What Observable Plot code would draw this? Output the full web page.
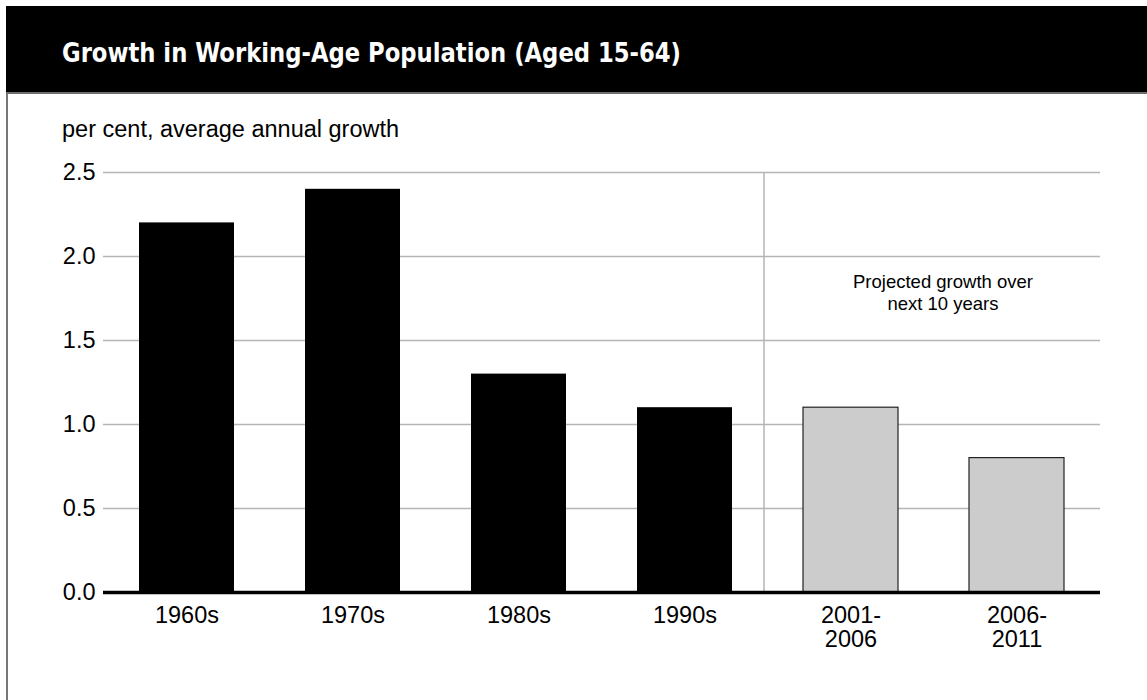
<!DOCTYPE html>
<html>
<head>
<meta charset="utf-8">
<script src="https://cdn.jsdelivr.net/npm/d3@7"></script>
<script src="https://cdn.jsdelivr.net/npm/@observablehq/plot@0.6"></script>
<style>
  html, body { margin: 0; padding: 0; background: #fff; }
  #wrap { position: relative; width: 1147px; height: 700px; overflow: hidden; background: #fff; }
  #titlebar { position: absolute; left: 6px; top: 6px; width: 1141px; height: 86px; background: #000; border-bottom: 2px solid #6e6e6e; }
  #title { position: absolute; left: 56px; top: 29px; line-height: 36px; color: #fff; white-space: nowrap;
           font-family: "Liberation Sans Narrow", "DejaVu Sans Condensed", sans-serif; font-weight: bold; font-size: 27px;
           transform: scaleX(0.935); transform-origin: left center; }
  #leftborder { position: absolute; left: 6px; top: 94px; width: 2px; height: 606px; background: #777; }
  #subtitle { position: absolute; left: 62px; top: 116px; font-family: "Liberation Sans", Arial, sans-serif; font-size: 23.5px; color: #000; white-space: nowrap; }
  #chart { position: absolute; left: 0; top: 100px; }
</style>
</head>
<body>
<div id="wrap">
  <div id="titlebar"><div id="title">Growth in Working-Age Population (Aged 15-64)</div></div>
  <div id="leftborder"></div>
  <div id="subtitle">per cent, average annual growth</div>
  <div id="chart"></div>
</div>
<script>
const categories = ["1960s", "1970s", "1980s", "1990s", "2001-\n2006", "2006-\n2011"];
const values = [2.2, 2.4, 1.3, 1.1, 1.1, 0.8];
const projected = [false, false, false, false, true, true];
const yTicks = [0, 0.5, 1.0, 1.5, 2.0, 2.5];
const separatorCategory = "2001-\n2006";
const annotationText = "Projected growth over\nnext 10 years";
const annotationY = 1.79;

const data = categories.map((c, i) => ({category: c, value: values[i], projected: projected[i]}));

const chart = Plot.plot({
  width: 1147,
  height: 600,
  marginTop: 72,
  marginBottom: 108,
  marginLeft: 103,
  marginRight: 47,
  style: {fontFamily: "'Liberation Sans', Arial, sans-serif", fontSize: "23px", color: "#000", background: "transparent"},
  x: {domain: categories, paddingInner: 0.43, paddingOuter: 0.215, label: null, axis: null},
  y: {domain: [0, 2.5], label: null},
  marks: [
    Plot.ruleY(yTicks.filter(d => d > 0), {stroke: "#b5b5b5", strokeWidth: 1.5}),
    Plot.ruleX([separatorCategory], {y1: 0, y2: 2.5, dx: -87, stroke: "#b5b5b5", strokeWidth: 1.5}),
    Plot.barY(data.filter(d => !d.projected), {x: "category", y: "value", fill: "#000"}),
    Plot.barY(data.filter(d => d.projected), {x: "category", y: "value", fill: "#cccccc", stroke: "#222", strokeWidth: 1.2}),
    Plot.ruleY([0], {stroke: "#000", strokeWidth: 3.5}),
    Plot.axisY({ticks: yTicks, tickFormat: d => d.toFixed(1), tickSize: 0, tickPadding: 8, fontSize: 23.5, label: null}),
    Plot.text(categories, {x: d => d, frameAnchor: "bottom", lineAnchor: "top", dy: 14, fontSize: 23.5, lineHeight: 1.0, textAnchor: "middle", fill: "#000"}),
    Plot.text([annotationText], {x: () => separatorCategory, y: () => annotationY, dx: 92, fontSize: 18.5, lineHeight: 1.2, textAnchor: "middle", fill: "#000"})
  ]
});
document.getElementById("chart").appendChild(chart);
</script>
</body>
</html>
